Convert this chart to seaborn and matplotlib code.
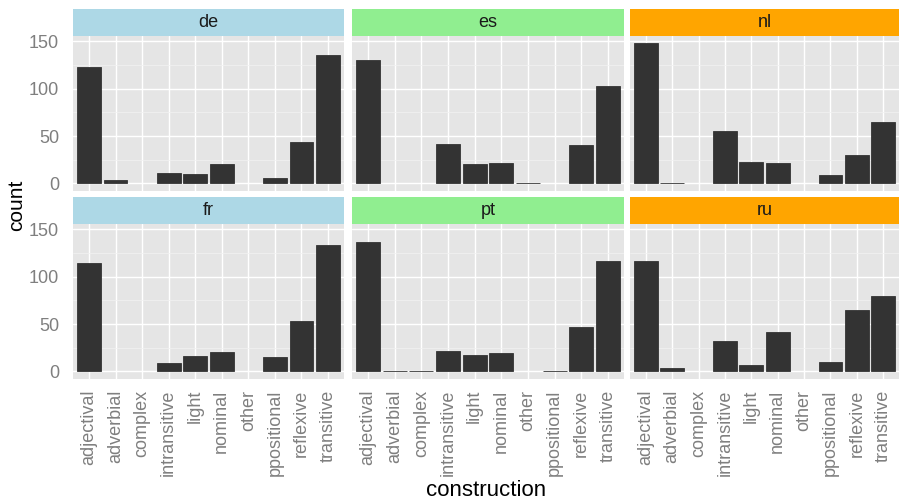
import matplotlib
matplotlib.use("Agg")
import matplotlib.pyplot as plt
import pandas as pd
import seaborn as sns

# Construction types on the x axis
constructions = ["adjectival", "adverbial", "complex", "intransitive", "light",
                 "nominal", "other", "ppositional", "reflexive", "transitive"]
languages = ["de", "es", "nl", "fr", "pt", "ru"]

# Counts per construction for each language
de = [123, 4, 0, 11, 10, 20, 0, 6, 44, 135]
es = [130, 0, 0, 42, 21, 22, 1, 0, 41, 103]
nl = [148, 1, 0, 55, 23, 22, 0, 9, 30, 65]
fr = [114, 0, 0, 9, 16, 20, 0, 15, 53, 133]
pt = [136, 1, 1, 22, 17, 19, 0, 1, 47, 116]
ru = [116, 4, 0, 32, 7, 42, 0, 10, 65, 80]

strip_colors = {"de": "#ADD8E6", "fr": "#ADD8E6",
                "es": "#90EE90", "pt": "#90EE90",
                "nl": "#FFA500", "ru": "#FFA500"}

counts = {"de": de, "es": es, "nl": nl, "fr": fr, "pt": pt, "ru": ru}
df = pd.DataFrame([
    {"lang": lang, "construction": c, "count": v}
    for lang in languages for c, v in zip(constructions, counts[lang])
])
# empty categories get no bar at all
df = df[df["count"] > 0]

sns.set_theme(style="white")
plt.rcParams["font.family"] = ["Liberation Sans", "DejaVu Sans"]

W, H = 899, 501
fig = plt.figure(figsize=(W / 100, H / 100), dpi=100)

def box(x0, y0, x1, y1):
    """Pixel box (top-left origin) -> figure fraction rect."""
    return [x0 / W, 1 - y1 / H, (x1 - x0) / W, (y1 - y0) / H]

col_edges = [(73, 344), (352, 624), (630, 899)]
row_edges = [((9, 36), (36, 190.5)), ((197, 224), (224, 378.5))]

grey50 = "#7F7F7F"
ymax = max(max(v) for v in counts.values())

for i, lang in enumerate(languages):
    r, c = divmod(i, 3)
    (s0, s1), (p0, p1) = row_edges[r]
    x0, x1 = col_edges[c]

    # facet strip
    sax = fig.add_axes(box(x0, s0, x1, s1))
    sax.set_facecolor(strip_colors[lang])
    sax.set_xticks([]); sax.set_yticks([])
    for sp in sax.spines.values():
        sp.set_visible(False)
    sax.text(0.5, 0.5, lang, ha="center", va="center", fontsize=13,
             color="#1A1A1A", transform=sax.transAxes)

    # panel
    ax = fig.add_axes(box(x0, p0, x1, p1))
    ax.set_facecolor("#E5E5E5")
    sub = df[df["lang"] == lang]
    sns.barplot(data=sub, x="construction", y="count", order=constructions,
                color="#333333", saturation=1, width=0.9, errorbar=None,
                edgecolor="#333333", linewidth=0.6, ax=ax)
    ax.set_xlim(-0.6, len(constructions) - 0.4)
    ax.set_ylim(-0.05 * ymax, 1.05 * ymax)
    ax.set_yticks([0, 50, 100, 150])
    ax.set_yticks([25, 75, 125], minor=True)
    ax.grid(True, which="major", color="white", linewidth=1.0)
    ax.grid(True, which="minor", axis="y", color="#F2F2F2", linewidth=0.5)
    ax.set_axisbelow(True)
    for sp in ax.spines.values():
        sp.set_visible(False)
    ax.set_xlabel("")
    ax.set_ylabel("")
    ax.tick_params(which="minor", length=0)
    ax.tick_params(axis="y", which="major", colors=grey50, labelcolor=grey50,
                   labelsize=13, length=4.5, width=1, pad=5.5)
    ax.tick_params(axis="x", which="major", colors=grey50, labelcolor=grey50,
                   labelsize=13, length=5, width=1, pad=3)
    if c != 0:
        ax.tick_params(axis="y", which="major", length=0, labelleft=False)
    if r == 0:
        ax.tick_params(axis="x", which="major", length=0, labelbottom=False)
    else:
        ax.set_xticks(range(len(constructions)))
        ax.set_xticklabels(constructions, rotation=90, ha="center", va="top")

fig.text(16.5 / W, 1 - 205 / H, "count", rotation=90, ha="center", va="center",
         fontsize=15, color="black")
fig.text(486 / W, 1 - 490 / H, "construction", ha="center", va="center",
         fontsize=16, color="black")

fig.savefig("out.png", dpi=100, facecolor="white")
